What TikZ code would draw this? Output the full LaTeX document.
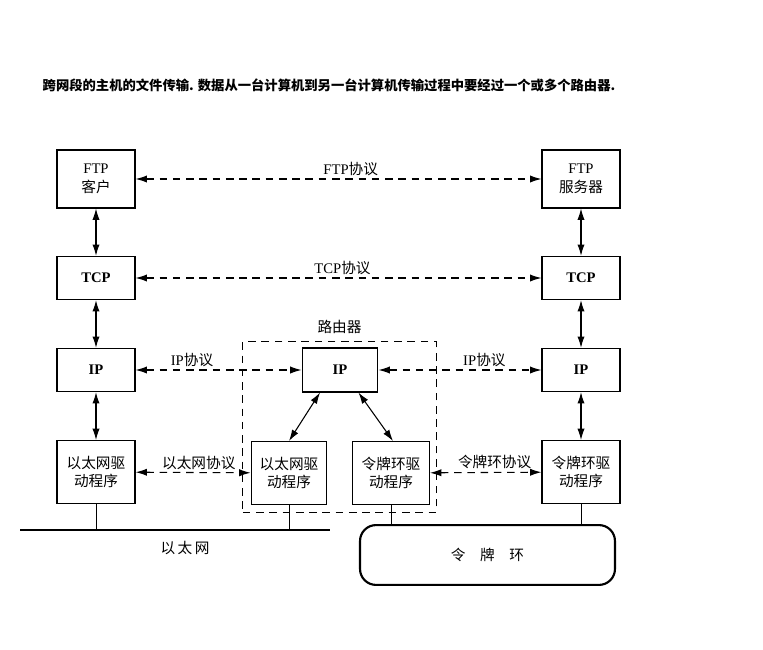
\documentclass[tikz,border=0pt]{standalone}
\usepackage{fontspec}
\setmainfont{Liberation Serif}
\newfontfamily\cjk{Noto Sans CJK SC}
\newcommand\zh[1]{{\cjk #1}}
\usepackage{tikz}
\usetikzlibrary{arrows.meta,positioning,calc}
\tikzset{
  % 协议层
  layer/.style={draw, line width=0.8pt, fill=white, align=center,
    minimum width=2.06cm, minimum height=1.14cm, inner sep=2pt},
  drv/.style={layer, minimum height=1.66cm},
  router/.style={draw, line width=0.8pt, dash pattern=on 2mm off 1.5mm,
    minimum width=5.1cm, minimum height=4.49cm},
  ring/.style={draw, line width=1.6pt, rounded corners=12pt,
    minimum width=6.73cm, minimum height=1.58cm},
  % 连线
  link/.style={line width=0.8pt, {Latex[length=3mm,width=1.9mm]}-{Latex[length=3mm,width=1.9mm]}},
  proto/.style={link, dash pattern=on 2mm off 1.5mm},
  wire/.style={line width=0.6pt},
  bus/.style={line width=2pt},
  plbl/.style={above=1pt, inner sep=1pt}
}

\begin{document}
\begin{tikzpicture}[x=0.0264cm, y=-0.0264cm, font=\fontsize{11}{14}\selectfont]
    \useasboundingbox (0,0) rectangle (763,650);
    \node[anchor=west, font=\cjk\bfseries\fontsize{10}{12}\selectfont] (cap) at (38,85)
      {跨网段的主机的文件传输. 数据从一台计算机到另一台计算机传输过程中要经过一个或多个路由器.};
    % 左侧主机
    \node[layer, minimum height=1.53cm] (ftpc) at (96,179) {FTP\\\zh{客户}};
    \node[layer] (tcpl) at (96,278) {\textbf{TCP}};
    \node[layer] (ipl) at (96,370) {\textbf{IP}};
    \node[drv] (ethl) at (96,472) {\zh{以太网驱}\\\zh{动程序}};
    % 路由器
    \node[router] (rt) at (339.5,427) {};
    \node[above=2pt of rt.north] (rtlbl) {\zh{路由器}};
    \node[layer, minimum width=2.0cm, minimum height=1.16cm] (ipm) at (340,370) {\textbf{IP}};
    \node[drv, minimum width=2.0cm] (ethm) at (289,473) {\zh{以太网驱}\\\zh{动程序}};
    \node[drv, minimum width=2.03cm] (trm) at (391,473) {\zh{令牌环驱}\\\zh{动程序}};
    % 右侧主机
    \node[layer, minimum height=1.53cm] (ftps) at (581,179) {FTP\\\zh{服务器}};
    \node[layer] (tcpr) at (581,278) {\textbf{TCP}};
    \node[layer] (ipr) at (581,370) {\textbf{IP}};
    \node[drv] (trr) at (581,472) {\zh{令牌环驱}\\\zh{动程序}};
    % 网络
    \coordinate (eth-a) at (20,530);
    \coordinate (eth-b) at (330,530);
    \draw[bus] (eth-a) -- (eth-b);
    \node (ethlbl) at (185,548) {\zh{以\,太\,网}};
    \node[ring] (tr) at (487.5,555) {\zh{令\quad 牌\quad 环}};
    \draw[wire] (ethl.south) -- (ethl.south |- eth-a);
    \draw[wire] (ethm.south) -- (ethm.south |- eth-a);
    \draw[wire] (trm.south) -- (trm.south |- tr.north);
    \draw[wire] (trr.south) -- (trr.south |- tr.north);
    % 层间
    \draw[link] (ftpc) -- (tcpl);
    \draw[link] (tcpl) -- (ipl);
    \draw[link] (ipl) -- (ethl);
    \draw[link] (ftps) -- (tcpr);
    \draw[link] (tcpr) -- (ipr);
    \draw[link] (ipr) -- (trr);
    \draw[link] ($(ipm.south west)!0.24!(ipm.south east)$) -- (ethm.north);
    \draw[link] ($(ipm.south west)!0.74!(ipm.south east)$) -- ($(trm.north)+(2,0)$);
    % 对等协议
    \draw[proto] (ftpc) -- node[plbl, pos=0.53] {FTP\zh{协议}} (ftps);
    \draw[proto] (tcpl) -- node[plbl, pos=0.51] {TCP\zh{协议}} (tcpr);
    \draw[proto] (ipl) -- node[plbl, pos=0.34] {IP\zh{协议}} (ipm);
    \draw[proto] (ipm) -- node[plbl, pos=0.65] {IP\zh{协议}} (ipr);
    \draw[proto] (ethl) -- node[plbl, pos=0.55] {\zh{以太网协议}} (ethm);
    \draw[proto] (trm) -- node[plbl, pos=0.58] {\zh{令牌环协议}} (trr);
  \end{tikzpicture}
\end{document}
